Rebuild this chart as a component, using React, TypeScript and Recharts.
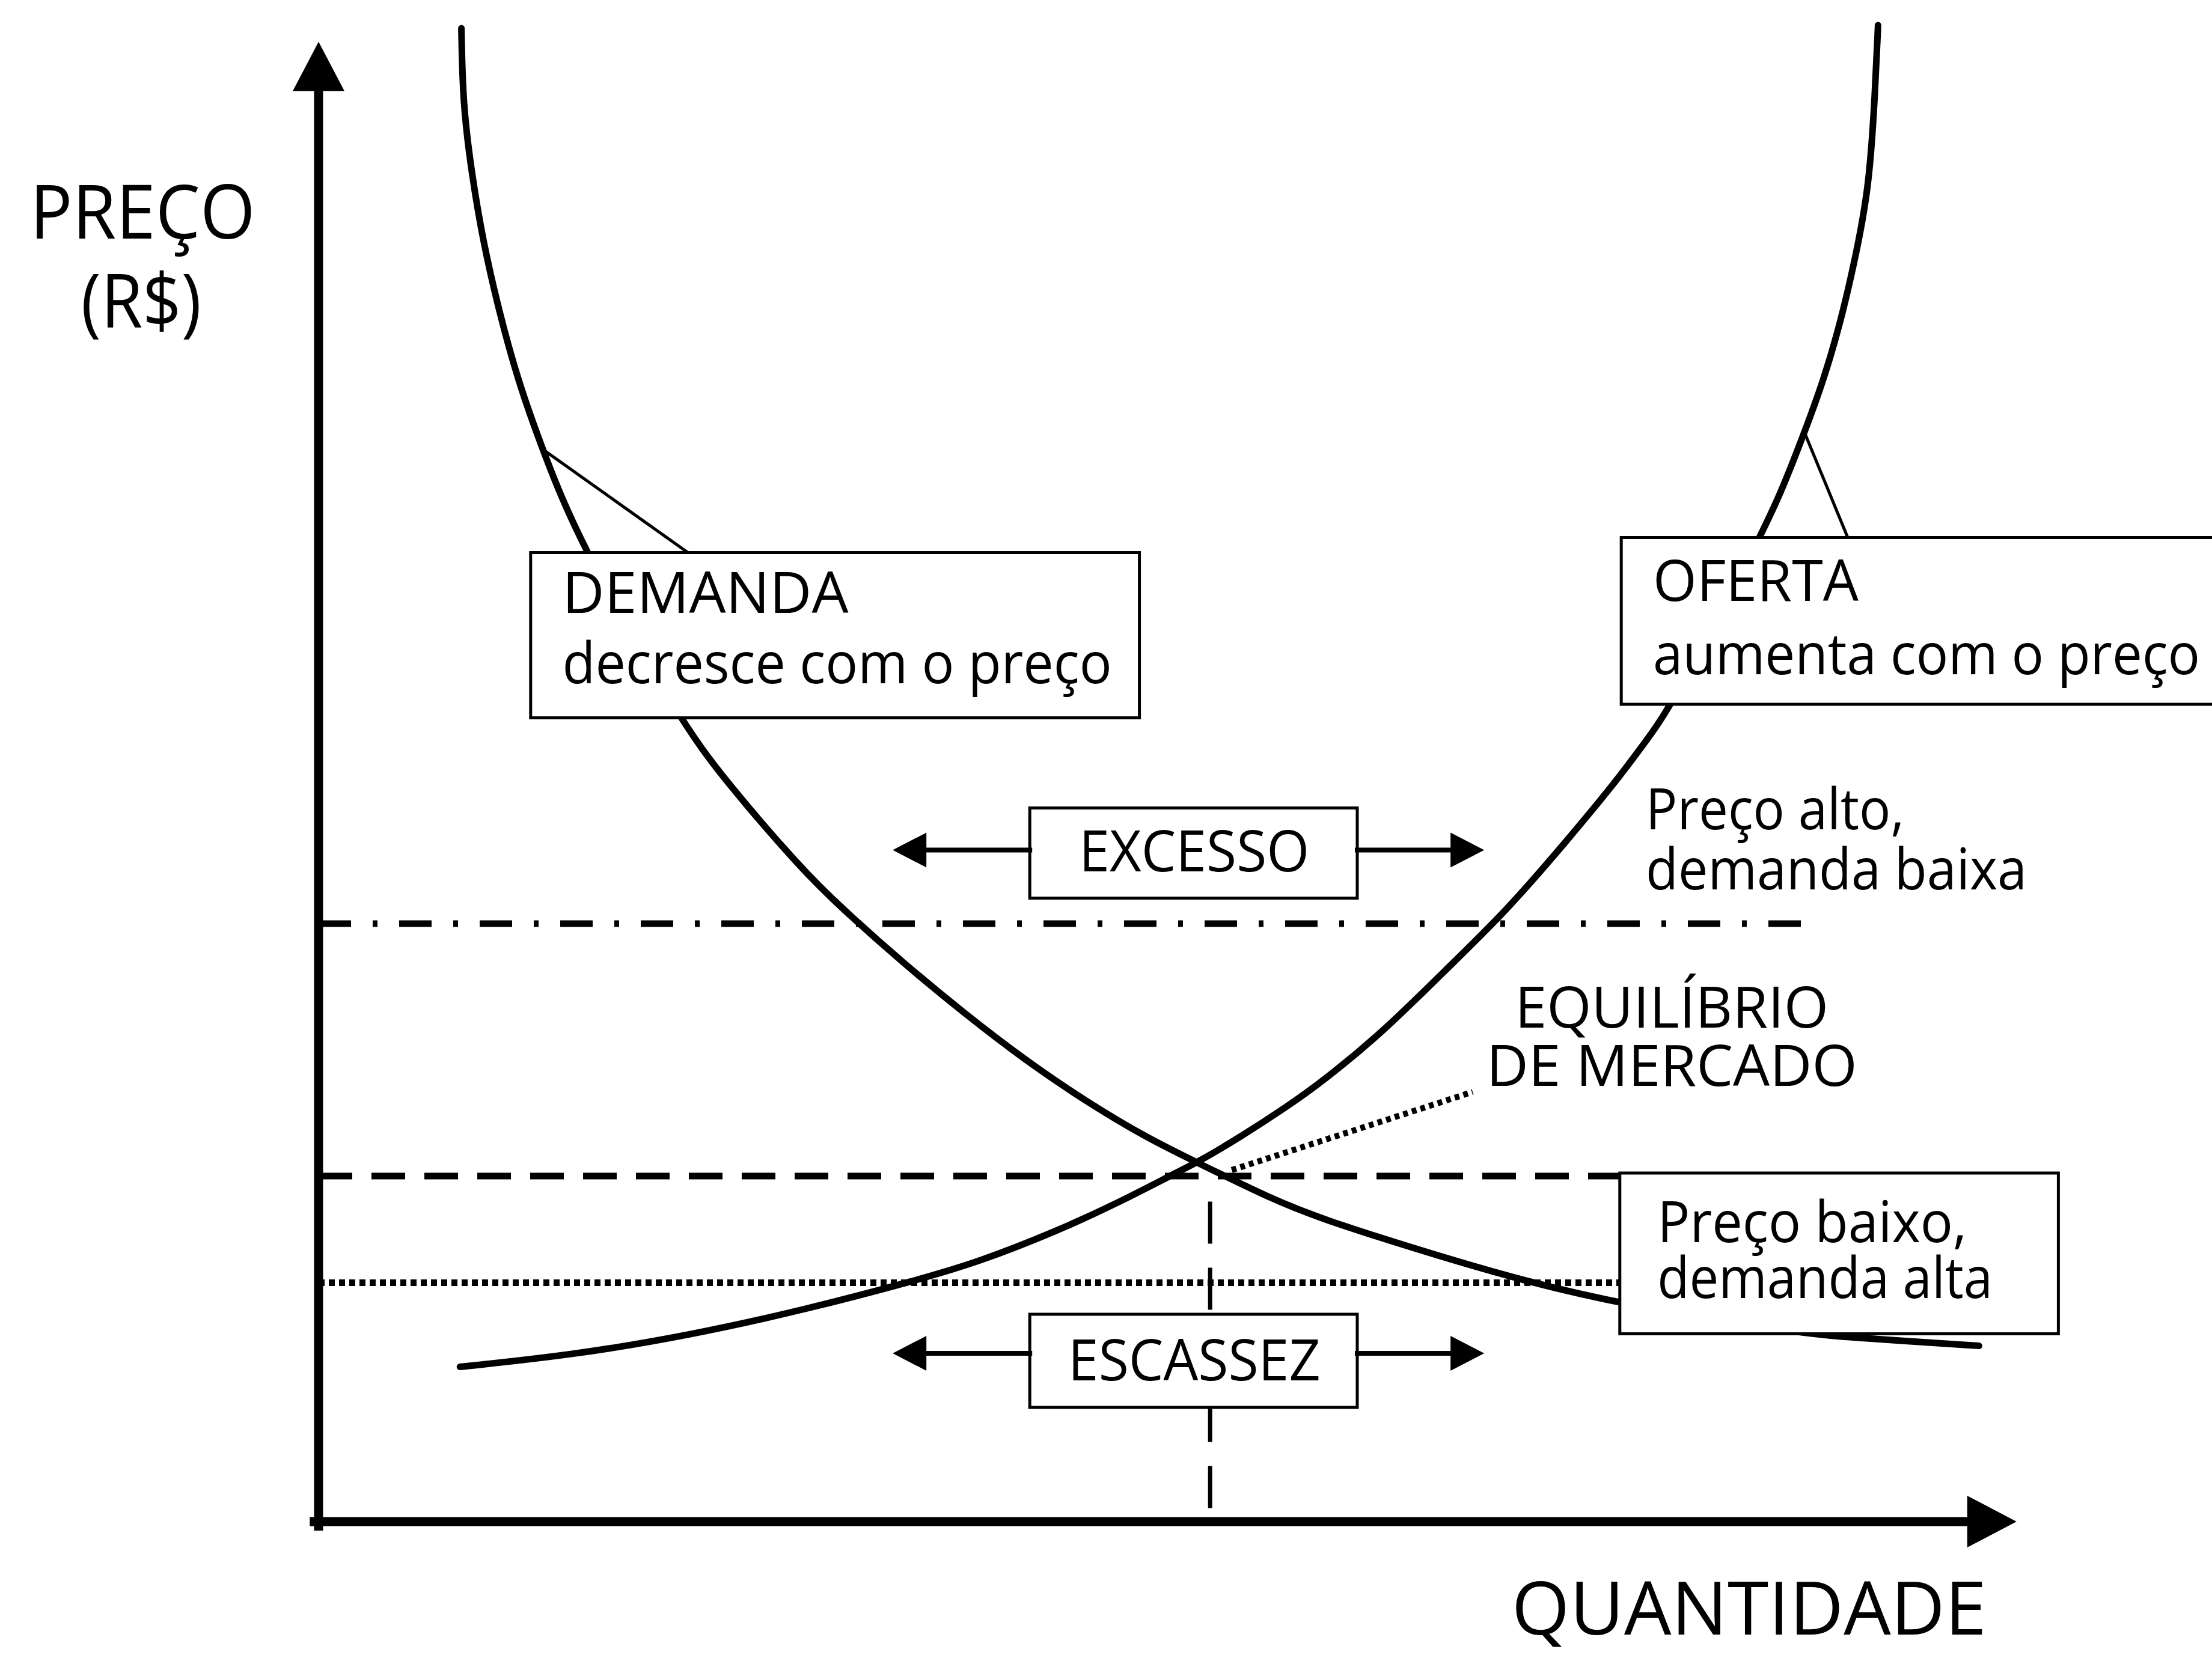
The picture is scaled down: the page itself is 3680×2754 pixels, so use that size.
import React from 'react';
import {
  ComposedChart,
  Line,
  XAxis,
  YAxis,
  ReferenceLine,
  ReferenceArea,
  ReferenceDot,
} from 'recharts';

// ---- Data (quantity, price) ----
const demandQty = [0.99, 1.0, 1.06, 1.14, 1.25, 1.38, 1.55, 1.8, 2.5, 2.82, 3.35, 3.63, 4.05, 4.48, 4.9, 5.33, 5.75, 6.09, 6.6, 6.96, 7.79, 8.33, 9.01, 10.26, 10.72, 11.51];
const demandPrice = [9.94, 9.44, 8.98, 8.52, 8.06, 7.6, 7.14, 6.53, 5.34, 4.93, 4.34, 4.08, 3.72, 3.38, 3.07, 2.79, 2.55, 2.39, 2.15, 2.01, 1.76, 1.61, 1.45, 1.25, 1.22, 1.17];

const supplyQty = [0.98, 1.77, 2.57, 3.37, 4.16, 4.58, 5.11, 5.54, 5.96, 6.09, 6.39, 6.71, 6.96, 7.38, 7.81, 8.23, 8.66, 8.98, 9.19, 9.38, 10.0, 10.15, 10.3, 10.43, 10.55, 10.66, 10.75, 10.79, 10.81];
const supplyPrice = [1.03, 1.11, 1.24, 1.41, 1.61, 1.73, 1.93, 2.12, 2.33, 2.39, 2.56, 2.76, 2.93, 3.26, 3.67, 4.06, 4.54, 4.91, 5.18, 5.43, 6.56, 6.88, 7.25, 7.59, 7.98, 8.44, 8.9, 9.52, 9.96];

// reference price levels
const highPrice = 3.98;
const eqPrice = 2.3;
const lowPrice = 1.59;
const eqQty = 6.18;

const demandData = demandQty.map((q, i) => ({ q, p: demandPrice[i] }));
const supplyData = supplyQty.map((q, i) => ({ q, p: supplyPrice[i] }));

const FONT = "'Open Sans', 'DejaVu Sans', sans-serif";

const textShape = (text: string, size: number, anchor: 'start' | 'middle' | 'end', w?: number) => (props: any) => (
  <text
    x={props.cx}
    y={props.cy}
    fontSize={size}
    textAnchor={anchor}
    fontFamily={FONT}
    fill="#000"
    {...(w ? { textLength: w, lengthAdjust: 'spacingAndGlyphs' } : {})}
  >
    {text}
  </text>
);

const arrowShape = (headLen: number, headHalf: number, width: number) => (props: any) => {
  const { x1, y1, x2, y2 } = props;
  const dx = x2 - x1;
  const dy = y2 - y1;
  const len = Math.hypot(dx, dy) || 1;
  const ux = dx / len;
  const uy = dy / len;
  const bx = x2 - ux * headLen;
  const by = y2 - uy * headLen;
  const px = -uy;
  const py = ux;
  return (
    <g>
      <line x1={x1} y1={y1} x2={bx + ux * 2} y2={by + uy * 2} stroke="#000" strokeWidth={width} strokeLinecap="square" />
      <polygon
        points={`${x2},${y2} ${bx + px * headHalf},${by + py * headHalf} ${bx - px * headHalf},${by - py * headHalf}`}
        fill="#000"
      />
    </g>
  );
};

type Lbl = { t: string; q: number; p: number; s: number; a: 'start' | 'middle' | 'end'; w?: number };
const labels: Lbl[] = [
  { t: 'PREÇO', q: -1.22, p: 8.54, s: 124, a: 'middle', w: 375 },
  { t: '(R$)', q: -1.23, p: 7.95, s: 124, a: 'middle', w: 200 },
  { t: 'QUANTIDADE', q: 8.27, p: -0.75, s: 122, a: 'start', w: 790 },
  { t: 'DEMANDA', q: 1.69, p: 6.05, s: 96, a: 'start', w: 476 },
  { t: 'decresce com o preço', q: 1.69, p: 5.58, s: 96, a: 'start', w: 914 },
  { t: 'OFERTA', q: 9.25, p: 6.13, s: 96, a: 'start', w: 342 },
  { t: 'aumenta com o preço', q: 9.25, p: 5.64, s: 96, a: 'start', w: 910 },
  { t: 'Preço alto,', q: 9.2, p: 4.61, s: 96, a: 'start', w: 430 },
  { t: 'demanda baixa', q: 9.2, p: 4.21, s: 96, a: 'start', w: 634 },
  { t: 'EQUILÍBRIO', q: 9.38, p: 3.29, s: 96, a: 'middle', w: 522 },
  { t: 'DE MERCADO', q: 9.38, p: 2.9, s: 96, a: 'middle', w: 617 },
  { t: 'EXCESSO', q: 6.07, p: 4.33, s: 96, a: 'middle', w: 383 },
  { t: 'ESCASSEZ', q: 6.07, p: 0.94, s: 96, a: 'middle', w: 420 },
  { t: 'Preço baixo,', q: 9.28, p: 1.86, s: 96, a: 'start', w: 515 },
  { t: 'demanda alta', q: 9.28, p: 1.49, s: 96, a: 'start', w: 558 },
];

type Box = { q1: number; q2: number; p1: number; p2: number };
const boxes: Box[] = [
  { q1: 1.47, q2: 5.69, p1: 5.35, p2: 6.45 }, // DEMANDA
  { q1: 9.03, q2: 13.6, p1: 5.44, p2: 6.55 }, // OFERTA
  { q1: 4.93, q2: 7.2, p1: 4.15, p2: 4.75 }, // EXCESSO
  { q1: 4.93, q2: 7.2, p1: 0.76, p2: 1.38 }, // ESCASSEZ
  { q1: 9.02, q2: 12.06, p1: 1.25, p2: 2.32 }, // Preço baixo
];

export default function App() {
  return (
    <div>
      <style>{'body{margin:0;background:#fff;}'}</style>
      <ComposedChart
        width={3680}
        height={2754}
        margin={{ top: 32, right: 270, bottom: 222, left: 530 }}
        style={{ background: '#fff' }}
      >
        <XAxis dataKey="q" type="number" domain={[0, 12]} allowDataOverflow hide />
        <YAxis dataKey="p" type="number" domain={[0, 10]} allowDataOverflow hide />

        {/* reference price lines */}
        <ReferenceLine
          segment={[{ x: 0, y: highPrice }, { x: 10.33, y: highPrice }]}
          stroke="#000"
          strokeWidth={11}
          strokeDasharray="54 36 8 36"
          ifOverflow="visible"
        />
        <ReferenceLine
          segment={[{ x: 0, y: eqPrice }, { x: 9.02, y: eqPrice }]}
          stroke="#000"
          strokeWidth={11}
          strokeDasharray="56 32"
          ifOverflow="visible"
        />
        <ReferenceLine
          segment={[{ x: 0, y: lowPrice }, { x: 9.02, y: lowPrice }]}
          stroke="#000"
          strokeWidth={11}
          strokeDasharray="10 7"
          ifOverflow="visible"
        />
        <ReferenceLine
          segment={[{ x: eqQty, y: 2.13 }, { x: eqQty, y: 0 }]}
          stroke="#000"
          strokeWidth={7}
          strokeDasharray="70 40"
          ifOverflow="visible"
        />
        <ReferenceLine
          segment={[{ x: 6.33, y: 2.34 }, { x: 8.0, y: 2.86 }]}
          stroke="#000"
          strokeWidth={10}
          strokeDasharray="8 7"
          ifOverflow="visible"
        />

        <Line
          data={demandData}
          dataKey="p"
          type="basis"
          stroke="#000"
          strokeWidth={11}
          strokeLinecap="round"
          dot={false}
          activeDot={false}
          isAnimationActive={false}
        />
        <Line
          data={supplyData}
          dataKey="p"
          type="basis"
          stroke="#000"
          strokeWidth={11}
          strokeLinecap="round"
          dot={false}
          activeDot={false}
          isAnimationActive={false}
        />

        {/* callout lines */}
        <ReferenceLine
          segment={[{ x: 1.55, y: 7.14 }, { x: 2.56, y: 6.45 }]}
          stroke="#000"
          strokeWidth={5}
          ifOverflow="visible"
        />
        <ReferenceLine
          segment={[{ x: 10.3, y: 7.25 }, { x: 10.6, y: 6.55 }]}
          stroke="#000"
          strokeWidth={5}
          ifOverflow="visible"
        />

        {/* boxes */}
        {boxes.map((b, i) => (
          <ReferenceArea
            key={'box' + i}
            x1={b.q1}
            x2={b.q2}
            y1={b.p1}
            y2={b.p2}
            fill="#fff"
            fillOpacity={1}
            stroke="#000"
            strokeWidth={5}
            ifOverflow="visible"
            zIndex={1500}
          />
        ))}

        {/* EXCESSO / ESCASSEZ arrows */}
        <ReferenceLine segment={[{ x: 4.93, y: 4.47 }, { x: 3.98, y: 4.47 }]} shape={arrowShape(56, 29, 8)} ifOverflow="visible" zIndex={1600} />
        <ReferenceLine segment={[{ x: 7.2, y: 4.47 }, { x: 8.08, y: 4.47 }]} shape={arrowShape(56, 29, 8)} ifOverflow="visible" zIndex={1600} />
        <ReferenceLine segment={[{ x: 4.93, y: 1.12 }, { x: 3.98, y: 1.12 }]} shape={arrowShape(56, 29, 8)} ifOverflow="visible" zIndex={1600} />
        <ReferenceLine segment={[{ x: 7.2, y: 1.12 }, { x: 8.08, y: 1.12 }]} shape={arrowShape(56, 29, 8)} ifOverflow="visible" zIndex={1600} />

        {/* axes with arrowheads */}
        <ReferenceLine segment={[{ x: 0, y: -0.03 }, { x: 0, y: 9.85 }]} shape={arrowShape(82, 43, 15)} ifOverflow="visible" zIndex={1600} />
        <ReferenceLine segment={[{ x: -0.03, y: 0 }, { x: 11.77, y: 0 }]} shape={arrowShape(82, 43, 15)} ifOverflow="visible" zIndex={1600} />

        {/* texts */}
        {labels.map((l, i) => (
          <ReferenceDot
            key={'lbl' + i}
            x={l.q}
            y={l.p}
            r={0}
            ifOverflow="visible"
            shape={textShape(l.t, l.s, l.a, l.w)}
            zIndex={2500}
          />
        ))}
      </ComposedChart>
    </div>
  );
}
